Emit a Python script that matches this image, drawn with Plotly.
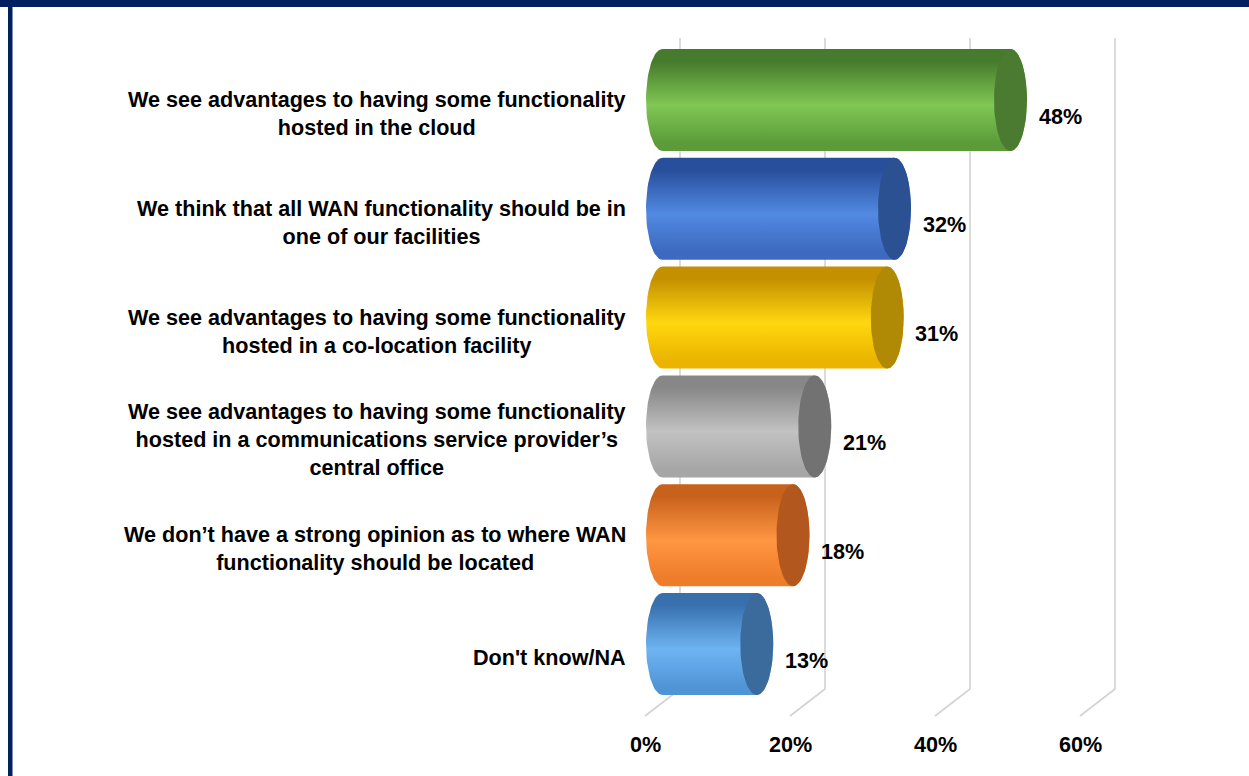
import numpy as np
import plotly.graph_objects as go

# ---------------- data ----------------
categories = [
    "We see advantages to having some functionality<br>hosted in the cloud",
    "We think that all WAN functionality should be in<br>one of our facilities",
    "We see advantages to having some functionality<br>hosted in a co-location facility",
    "We see advantages to having some functionality<br>hosted in a communications service provider’s<br>central office",
    "We don’t have a strong opinion as to where WAN<br>functionality should be located",
    "Don't know/NA",
]
values = [48, 32, 31, 21, 18, 13]
value_labels = ["48%", "32%", "31%", "21%", "18%", "13%"]
tick_values = [0, 20, 40, 60]
tick_labels = ["0%", "20%", "40%", "60%"]

# ---------------- styles ----------------
body_top = ["#5c9b3a", "#3d69c0", "#eab400", "#a6a6a6", "#ee7d2a", "#5194d6"]
body_mid = ["#80c754", "#5289e2", "#ffd70f", "#c2c2c2", "#ff9642", "#6db4f2"]
body_bot = ["#467a2c", "#284f9c", "#c49000", "#878787", "#c8611c", "#3870ae"]
cap_col = ["#4b7b30", "#2c5192", "#b08a05", "#727272", "#b2571d", "#3b6b9c"]
NAVY = "#002060"
FONT = "Liberation Sans, Arial, sans-serif"

W, H = 1249, 776
PX_PER_X = 7.25      # pixels per percentage point
X0_PX = 662.5        # pixel of 0% on mid plane
Y0_PX = 100.0        # pixel of first category centre
PX_PER_CAT = 108.8   # pixels between categories

def ux(px):  # pixel distance -> x units
    return px / PX_PER_X

def uy(px):  # pixel distance -> category units
    return px / PX_PER_CAT

DX = ux(17.5)   # half depth (x)
DY = uy(13.5)   # half depth (y)
A = ux(16.5)    # cap semi-axis x
B = uy(51.0)    # cap semi-axis y (bar half height)

fig = go.Figure()

# ---- back-plane gridlines with floor slants ----
y_top = uy(38 - Y0_PX)
y_floor = uy(689 - Y0_PX)
for t in tick_values:
    fig.add_trace(go.Scatter(
        x=[t + DX, t + DX, t - DX], y=[y_top, y_floor, y_floor + 2 * DY],
        mode="lines", line=dict(color="#d3d3d3", width=1.6),
        hoverinfo="skip", showlegend=False))

# ---- cylinders ----
tl = np.linspace(np.pi / 2, 3 * np.pi / 2, 40)
tr = np.linspace(-np.pi / 2, np.pi / 2, 40)
tc = np.linspace(0, 2 * np.pi, 80)
for i, v in enumerate(values):
    xs = np.concatenate([A * np.cos(tl), v + A * np.cos(tr)])
    ys = np.concatenate([i - B * np.sin(tl), i - B * np.sin(tr)])
    xs = np.append(xs, xs[0]); ys = np.append(ys, ys[0])
    fig.add_trace(go.Scatter(
        x=xs, y=ys, mode="lines", fill="toself",
        line=dict(color="rgba(0,0,0,0)", width=0),
        fillgradient=dict(type="vertical", colorscale=[
            [0, body_top[i]], [0.08, body_top[i]], [0.45, body_mid[i]],
            [0.88, body_bot[i]], [1, body_bot[i]]]),
        hoverinfo="skip", showlegend=False))
    fig.add_trace(go.Scatter(
        x=v + A * np.cos(tc), y=i + B * np.sin(tc), mode="lines", fill="toself",
        line=dict(color="rgba(0,0,0,0)", width=0), fillcolor=cap_col[i],
        hoverinfo="skip", showlegend=False))

annotations = []
# category labels (front plane)
for i, c in enumerate(categories):
    annotations.append(dict(
        x=ux(628 - X0_PX), y=i + DY,
        text="<b>" + c.replace("<br>", "</b><br><b>") + "</b>", showarrow=False,
        xanchor="right", yanchor="middle", align="center",
        font=dict(family=FONT, size=21.6, color="#000000")))
# value labels
for i, (v, lab) in enumerate(zip(values, value_labels)):
    annotations.append(dict(
        x=v + ux(26), y=i + uy(16), text="<b>%s</b>" % lab, showarrow=False,
        xanchor="left", yanchor="middle",
        font=dict(family=FONT, size=21.6, color="#000000")))
# axis tick labels (front plane)
for t, lab in zip(tick_values, tick_labels):
    annotations.append(dict(
        x=t - DX, y=uy(744 - Y0_PX), text="<b>%s</b>" % lab, showarrow=False,
        xanchor="center", yanchor="middle",
        font=dict(family=FONT, size=21.6, color="#000000")))

shapes = [
    dict(type="rect", xref="paper", yref="paper", x0=0, x1=1,
         y0=1 - 7 / H, y1=1.01, fillcolor=NAVY, line=dict(width=0), layer="above"),
    dict(type="rect", xref="paper", yref="paper", x0=8 / W, x1=12.5 / W,
         y0=-0.01, y1=1, fillcolor=NAVY, line=dict(width=0), layer="above"),
]

fig.update_layout(
    width=W, height=H, margin=dict(l=0, r=0, t=0, b=0),
    paper_bgcolor="white", plot_bgcolor="white",
    xaxis=dict(range=[ux(-X0_PX), ux(W - X0_PX)], visible=False, fixedrange=True),
    yaxis=dict(range=[uy(H - Y0_PX), uy(-Y0_PX)], visible=False, fixedrange=True),
    annotations=annotations, shapes=shapes, showlegend=False,
)

fig.write_html(
    "out.html", config={"displayModeBar": False},
    post_script="document.body.style.margin='0px';document.body.style.overflow='hidden';",
)
